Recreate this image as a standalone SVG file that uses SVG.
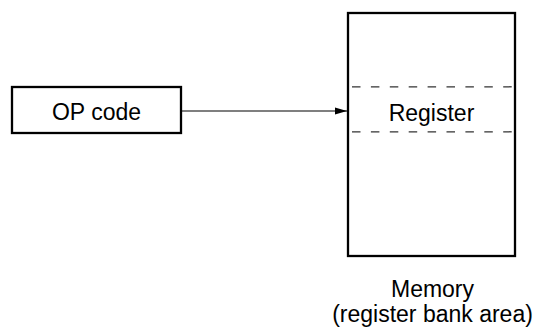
<svg xmlns="http://www.w3.org/2000/svg" width="538" height="329" viewBox="0 0 538 329">
<defs>
<style>
.box{fill:#fff;stroke:#000;stroke-width:2.3}
.dash{stroke:#333;stroke-width:1.3;stroke-dasharray:8.5 10.4;fill:none}
.lbl{font-family:"Liberation Sans",Arial,sans-serif;font-size:23px;fill:#000;text-anchor:middle}
.conn{stroke:#000;stroke-width:1.2;fill:none}
</style>
<marker id="arr" markerUnits="userSpaceOnUse" markerWidth="13" markerHeight="8" refX="12" refY="4" orient="auto">
<path d="M0,0.5 L12,4 L0,7.5 Z" fill="#000"/>
</marker>
</defs>
<rect width="538" height="329" fill="#fff"/>
<g id="opcode">
<rect class="box" x="12" y="87" width="169" height="46"/>
<text class="lbl" x="96.5" y="119.5">OP code</text>
</g>
<g id="memory">
<rect class="box" x="348" y="13" width="167" height="243"/>
<line class="dash" x1="352" y1="86.8" x2="512" y2="86.8"/>
<line class="dash" x1="352" y1="131.8" x2="512" y2="131.8"/>
<text class="lbl" x="431.5" y="120.5">Register</text>
<text class="lbl" x="432.5" y="297">Memory</text>
<text class="lbl" x="432.5" y="321.5">(register bank area)</text>
</g>
<g id="connectors">
<line class="conn" x1="181" y1="111" x2="347" y2="111" marker-end="url(#arr)"/>
</g>
</svg>
